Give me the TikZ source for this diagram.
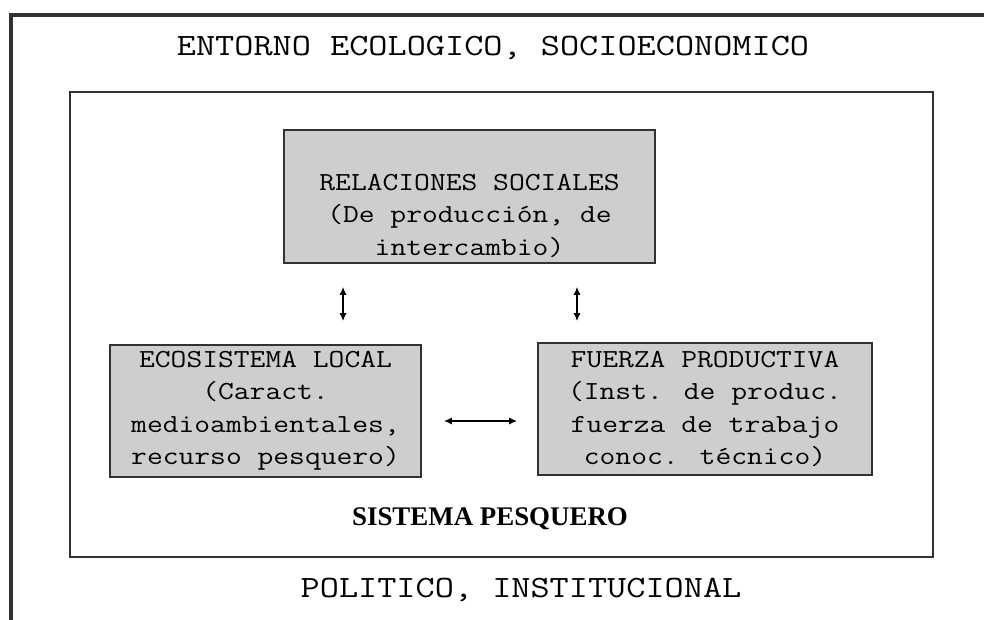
\documentclass[tikz,border=0pt]{standalone}
\usepackage{fontspec}
\usepackage{tikz}
\usetikzlibrary{calc}
\usetikzlibrary{arrows.meta}
\newfontfamily\romanfont{Liberation Serif}
\definecolor{boxgray}{RGB}{206,206,206}
\definecolor{framegray}{RGB}{50,50,50}
\tikzset{
  factor/.style={draw=framegray, line width=1.6pt, fill=boxgray, inner sep=0pt},
  boxtext/.style={align=center, inner sep=0pt, xscale=1.18, font=\ttfamily\fontsize{26}{32.5}\selectfont},
  bigtext/.style={inner sep=0pt, xscale=1.2, font=\ttfamily\fontsize{31}{36}\selectfont},
  link/.style={line width=1.5pt, {Latex[length=8pt,width=7pt]}-{Latex[length=8pt,width=7pt]}}
}
\newcommand{\factorbox}[5]{\node[factor, minimum width=#4pt, minimum height=#5pt] (#1) at (#2pt,#3pt) {};}

\begin{document}
\begin{tikzpicture}[x=1pt, y=1pt]
            \useasboundingbox (0,0) rectangle (984,620);
            % entorno
            \draw[framegray, line width=4pt] (11,0) -- (11,605) -- (984,605);
            \node[bigtext] (entorno) at (493,572) {ENTORNO ECOLOGICO, SOCIOECONOMICO};
            \node[bigtext] (politico) at (521,30) {POLITICO, INSTITUCIONAL};
            % sistema pesquero
            \draw[framegray, line width=1.6pt] (70,63) rectangle (933,528);
            \node[inner sep=0pt, font=\romanfont\bfseries\fontsize{26.9}{30}\selectfont] (sistema) at (490,101) {SISTEMA PESQUERO};
            % factores
            \factorbox{rel}{469.5}{423.5}{371}{133}
            \factorbox{eco}{265.5}{209}{311}{132}
            \factorbox{fuerza}{705}{211}{334}{132}
            \node[boxtext] (reltxt) at ([yshift=-19pt]rel.center) {RELACIONES SOCIALES\\(De producción, de\\intercambio)};
            \node[boxtext] (ecotxt) at (eco.center) {ECOSISTEMA LOCAL\\(Caract.\\medioambientales,\\recurso pesquero)};
            \node[boxtext] (fuerzatxt) at (fuerza.center) {FUERZA PRODUCTIVA\\(Inst. de produc.\\fuerza de trabajo\\conoc. técnico)};
            % relaciones
            \draw[link, shorten <=23pt, shorten >=23pt] ([xshift=77.5pt]eco.north) -- ([xshift=77.5pt]eco.north |- rel.south);
            \draw[link, shorten <=21pt, shorten >=23pt] ([xshift=-128pt]fuerza.north) -- ([xshift=-128pt]fuerza.north |- rel.south);
            \draw[link, shorten <=22pt, shorten >=20pt] ([yshift=-10pt]eco.east) -- ([yshift=-10pt]eco.east -| fuerza.west);
        \end{tikzpicture}
\end{document}
